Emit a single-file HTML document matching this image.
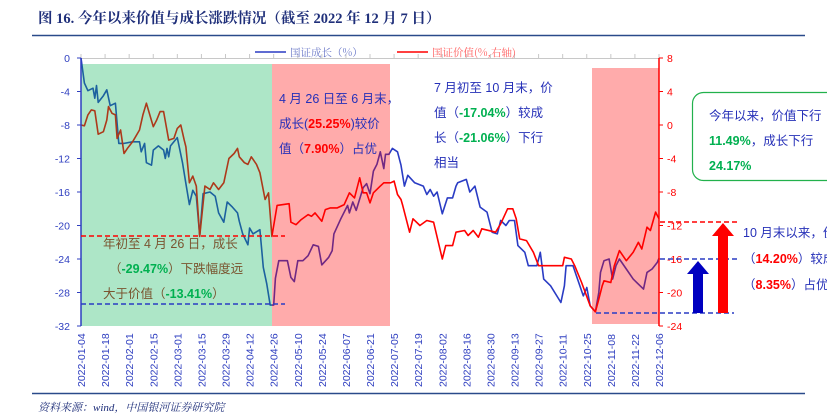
<!DOCTYPE html>
<html><head><meta charset="utf-8">
<style>
html,body{margin:0;padding:0;background:#fff;}
body{width:827px;height:417px;overflow:hidden;position:relative;font-family:"Liberation Sans","Noto Sans CJK SC",sans-serif;}
svg{position:absolute;left:0;top:0;}
</style></head>
<body>
<svg id="chart" width="827" height="417" viewBox="0 0 827 417">
  <text x="38" y="23" font-family="Liberation Serif, Noto Serif CJK SC, serif" font-weight="bold" font-size="14.5" fill="#1f2f7a">图 16. 今年以来价值与成长涨跌情况（截至 2022 年 12 月 7 日）</text>
  <line x1="32" y1="35.5" x2="805" y2="35.5" stroke="#2a4a8a" stroke-width="1.5"/>
  <line x1="32" y1="393.5" x2="805" y2="393.5" stroke="#2a4a8a" stroke-width="1.5"/>
  <text x="38" y="411" font-family="Liberation Serif, Noto Serif CJK SC, serif" font-style="italic" font-size="11" fill="#1f2f7a">资料来源：wind，中国银河证券研究院</text>
  <g id="plot"></g>
</svg>
<script>
var dateLabels=["2022-01-04","2022-01-18","2022-02-01","2022-02-15","2022-03-01","2022-03-15","2022-03-29","2022-04-12","2022-04-26","2022-05-10","2022-05-24","2022-06-07","2022-06-21","2022-07-05","2022-07-19","2022-08-02","2022-08-16","2022-08-30","2022-09-13","2022-09-27","2022-10-11","2022-10-25","2022-11-08","2022-11-22","2022-12-06"];
var leftTicks=[0,-4,-8,-12,-16,-20,-24,-28,-32];
var rightTicks=[8,4,0,-4,-8,-12,-16,-20,-24];
var growthDays=[0,2,4,7,8,9,10,13,15,17,20,22,25,30,34,35,37,38,41,42,45,48,49,50,51,52,56,59,61,63,65,67,69,71,75,78,80,83,85,88,91,92,94,97,98,100,104,106,108,110,112,113,115,120,122,124,126,129,132,135,138,140,144,146,147,151,155,156,158,160,164,166,168,170,172,174,176,177,179,181,184,186,188,190,194,199,201,203,205,207,210,213,216,218,219,224,226,229,232,236,239,242,244,247,249,252,254,258,260,265,267,269,273,279,281,282,286,288,292,294,296,299,301,302,304,307,309,311,313,317,321,327,329,332,335,336];
var growthVals=[0,-3,-3.9,-3.6,-4.8,-3.3,-5.3,-4.5,-3.8,-5.7,-5.4,-10.2,-10.2,-10,-10,-11.2,-10.2,-12.5,-12.8,-11,-10.5,-11,-12,-10.8,-11.8,-10.5,-9.5,-12.5,-15,-17.5,-15.8,-16.5,-21.2,-16.2,-16,-16.5,-18.5,-19.6,-17.2,-17.8,-18.5,-19.5,-21,-22.3,-20.3,-21,-20.5,-25,-27,-29.5,-29.5,-26.3,-24.2,-24.2,-26.2,-26.7,-24.2,-24.2,-23.6,-22.3,-22.5,-24.7,-23.8,-23,-21,-19.2,-17.6,-18.5,-17.2,-18.2,-15.5,-15,-16.2,-13.5,-12.7,-11.2,-13.2,-11.5,-11.5,-10.8,-11.2,-12.8,-15.3,-14,-14.9,-15.3,-16.3,-15.7,-16.5,-16,-18.6,-16.7,-16.7,-15.3,-14.9,-14.5,-16,-15.3,-17.8,-18.4,-20.8,-21,-19.4,-20,-19.4,-19.4,-22.4,-23.2,-24.8,-24.8,-23.2,-26.4,-27.2,-29.2,-27.2,-24.8,-24.8,-26,-28.4,-27.4,-29.6,-30.3,-28,-25.6,-24.2,-24,-26.4,-24.8,-24,-25.2,-26.4,-27.6,-25.6,-25.2,-24.4,-23.9];
var valueDays=[0,2,4,6,8,10,13,15,16,18,20,21,23,25,27,30,34,36,38,40,42,44,46,48,51,54,56,58,60,61,63,65,67,69,72,75,77,80,83,86,89,91,92,95,97,99,102,104,107,109,111,114,121,122,125,128,132,134,136,140,142,145,149,153,156,159,162,164,166,168,170,174,176,180,182,184,186,187,191,193,197,201,205,210,212,216,218,223,225,228,231,233,241,244,248,251,253,255,259,263,266,271,280,281,285,287,291,296,299,301,303,304,308,310,313,317,321,324,326,329,331,334,336];
var valueVals=[0,-0.1,1.2,1.8,1.7,-1.1,-0.8,0.6,2.2,1.4,1.2,-1.6,-0.6,-3.4,-2.8,-2,-0.6,1.2,2.6,1.2,-0.2,0.6,1.6,1.6,-1.8,-1.6,-0.4,0,-1.8,-2.6,-6.9,-6.1,-7.3,-13.3,-7.3,-7.7,-6.9,-7.7,-6.9,-4,-3.4,-2.8,-3.8,-4.5,-4.7,-3.8,-4.7,-5.7,-8.9,-8.1,-13.3,-9.6,-9.4,-11.6,-11.9,-11.3,-10.7,-10.9,-10.5,-11.5,-10.1,-9.9,-9.9,-9.5,-8.1,-8.7,-6.3,-8.1,-8.1,-9.3,-8.1,-7.3,-6.9,-6.9,-6.7,-8.3,-8.9,-9.6,-12.8,-11.2,-12,-11.4,-11.6,-16,-14.4,-14.4,-12.8,-12.6,-13.2,-12.6,-13.4,-12.4,-12.8,-11.8,-10,-10,-11.2,-13.6,-13.8,-15.2,-16.8,-16.8,-16.8,-15.8,-16,-16.8,-18.8,-21.6,-22.3,-20.8,-19.2,-18.6,-18.8,-16.8,-15,-16.2,-15.2,-14,-14.8,-12.2,-12.6,-10.4,-11.2];

var NS="http://www.w3.org/2000/svg";
var plot=document.getElementById('plot');
var X0=81,X1=659,Y0=58,Y1=326,DAYS=336;
function xDay(d){return X0+d*(X1-X0)/DAYS;}
function yL(v){return Y0+(0-v)*(Y1-Y0)/32;}
function yR(v){return yL(v-8);}
function el(tag,attrs,parent){var e=document.createElementNS(NS,tag);for(var k in attrs)e.setAttribute(k,attrs[k]);(parent||plot).appendChild(e);return e;}

var topAxis=el('line',{x1:X0,y1:Y0+0.5,x2:X1,y2:Y0+0.5,stroke:'#c8c8c8','stroke-width':1});


dateLabels.forEach(function(d,i){
  var x=X0+i*(X1-X0)/(dateLabels.length-1);
  var tk=el('line',{x1:x,y1:Y0-4,x2:x,y2:Y0,stroke:'#c8c8c8','stroke-width':1});
  
  
  var t=el('text',{x:0,y:0,transform:'translate('+(x+4)+',387) rotate(-90)','font-size':'10.5',fill:'#2f3fc0'});
  t.textContent=d;
  
  
});

function pts(days,vals,fy){return days.map(function(d,i){return xDay(d).toFixed(1)+','+fy(vals[i]).toFixed(1);}).join(' ');}
var gLine=el('polyline',{points:pts(growthDays,growthVals,yL),fill:'none',stroke:'#2a3cc4','stroke-width':1.6,'stroke-linejoin':'round'});


var vLine=el('polyline',{points:pts(valueDays,valueVals,yR),fill:'none',stroke:'#ff0000','stroke-width':1.6,'stroke-linejoin':'round'});



var b1=el('rect',{x:X0,y:64,width:272-X0,height:262,fill:'rgb(0,176,80)','fill-opacity':0.32});


var b2=el('rect',{x:272,y:64,width:118,height:262,fill:'rgb(255,0,0)','fill-opacity':0.33});


var b3=el('rect',{x:592,y:68,width:67,height:256,fill:'rgb(255,0,0)','fill-opacity':0.33});



var la=el('line',{x1:X0,y1:Y0,x2:X0,y2:Y1,stroke:'#2f3fc0','stroke-width':1.5});


leftTicks.forEach(function(v){
  var y=yL(v);
  var tk=el('line',{x1:X0-4,y1:y,x2:X0,y2:y,stroke:'#2f3fc0'});
  
  
  var t=el('text',{x:70,y:y+4,'text-anchor':'end','font-size':'10.5',fill:'#2f3fc0'});
  t.textContent=v;
  
  
});
var ra=el('line',{x1:X1,y1:Y0,x2:X1,y2:Y1,stroke:'#ff0000','stroke-width':1.5});


rightTicks.forEach(function(v){
  var y=yR(v);
  var tk=el('line',{x1:X1,y1:y,x2:X1+4,y2:y,stroke:'#ff0000'});
  
  
  var t=el('text',{x:667,y:y+4,'font-size':'10.5',fill:'#ff0000'});
  t.textContent=v;
  
  
});

function dash(x1,y,x2,c,name){var l=el('line',{x1:x1,y1:y,x2:x2,y2:y,stroke:c,'stroke-width':1.5,'stroke-dasharray':'5,3'});}
dash(81,236,285,'#ff0000','ref-value-apr26');
dash(81,304,285,'#2a3cc4','ref-growth-apr26');
dash(596,313,734,'#2a3cc4','ref-oct-low');
dash(660,222,738,'#ff0000','ref-value-now');
dash(660,259,740,'#2a3cc4','ref-growth-now');

function arrow(cx,top,bot,c,name){var p=el('polygon',{points:[cx-5,bot,cx-5,top+13,cx-11,top+13,cx,top,cx+11,top+13,cx+5,top+13,cx+5,bot].join(' ').replace(/(\S+) (\S+)/g,'$1,$2'),fill:c});}
arrow(698,261,313,'#0000c0','growth-gain-arrow');
arrow(723,223,313,'#ff0000','value-gain-arrow');

var gb=el('rect',{x:692.5,y:92.5,width:150,height:88,rx:11,fill:'#fff',stroke:'#22b14c','stroke-width':1.2});



function ann(x,y,html,name,color){var t=el('text',{x:x,y:y,'font-size':'12.5',fill:color||'#2630b8'});t.innerHTML=html;}
var R='<tspan fill="#ff0000" font-weight="bold">',G='<tspan fill="#00b050" font-weight="bold">',E='</tspan>';
ann(279,103,'4 月 26 日至 6 月末，','note-apr-jun-1');
ann(279,128,'成长('+R+'25.25%'+E+')较价','note-apr-jun-2');
ann(279,153,'值（'+R+'7.90%'+E+'）占优','note-apr-jun-3');
ann(434,92,'7 月初至 10 月末，价','note-jul-oct-1');
ann(434,117,'值（'+G+'-17.04%'+E+'）较成','note-jul-oct-2');
ann(434,142,'长（'+G+'-21.06%'+E+'）下行','note-jul-oct-3');
ann(434,167,'相当','note-jul-oct-4');
ann(709,120,'今年以来，价值下行','summary-1');
ann(709,145,G+'11.49%'+E+'，成长下行','summary-2');
ann(709,170,G+'24.17%'+E,'summary-3');
ann(743,237,'10 月末以来，价值','note-nov-1');
ann(743,263,'（'+R+'14.20%'+E+'）较成长','note-nov-2');
ann(743,289,'（'+R+'8.35%'+E+'）占优','note-nov-3');
ann(103,248,'年初至 4 月 26 日，成长','note-ytd-1','#7a5530');
ann(109,273,'（'+G+'-29.47%'+E+'）下跌幅度远','note-ytd-2','#7a5530');
ann(103,298,'大于价值（'+G+'-13.41%'+E+'）','note-ytd-3','#7a5530');

var l1=el('line',{x1:255,y1:52,x2:286,y2:52,stroke:'#2a3cc4','stroke-width':1.5});


var lt1=el('text',{x:290,y:56,'font-size':'10.5',fill:'#6a78c8','font-family':'Noto Serif CJK SC, serif'});
lt1.textContent='国证成长（%）';


var l2=el('line',{x1:397,y1:52,x2:428,y2:52,stroke:'#ff0000','stroke-width':1.5});


var lt2=el('text',{x:432,y:56,'font-size':'10.5',fill:'#ff5a5a','font-family':'Noto Serif CJK SC, serif'});
lt2.textContent='国证价值(%,右轴)';


</script>
</body></html>
